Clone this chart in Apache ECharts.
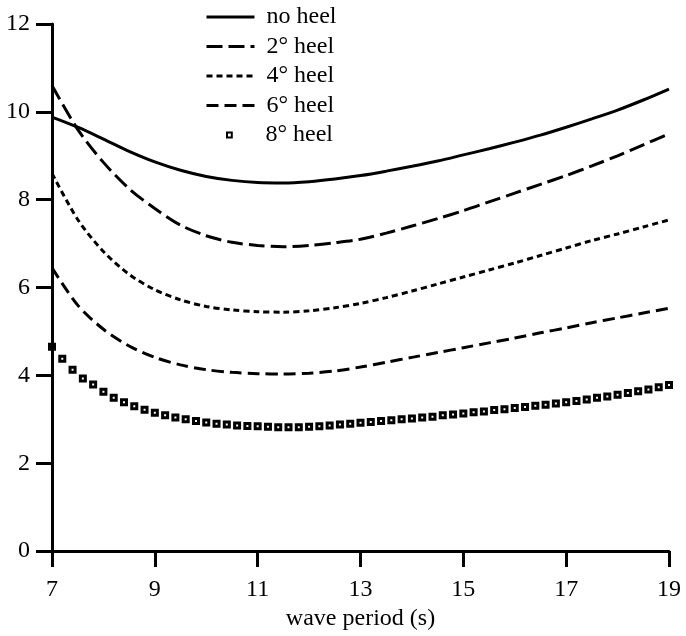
<!DOCTYPE html>
<html>
<head>
<meta charset="utf-8">
<script src="https://cdn.jsdelivr.net/npm/echarts@6/dist/echarts.min.js"></script>
<style>
  html, body { margin: 0; padding: 0; background: #fff; }
  #chart { width: 686px; height: 636px; }
</style>
</head>
<body>
<div id="chart"></div>
<script>
// wave period (s) for the line curves, every 0.5 s
var periods = [7, 7.5, 8, 8.5, 9, 9.5, 10, 10.5, 11, 11.5, 12, 12.5, 13, 13.5, 14, 14.5,
  15, 15.5, 16, 16.5, 17, 17.5, 18, 18.5, 19];
var noHeel = [9.88, 9.65, 9.38, 9.1, 8.86, 8.67, 8.53, 8.44, 8.39, 8.38, 8.41, 8.47, 8.55, 8.65,
  8.76, 8.88, 9.02, 9.16, 9.31, 9.47, 9.65, 9.84, 10.04, 10.27, 10.52];
var heel2 = [10.6, 9.6, 8.85, 8.25, 7.8, 7.42, 7.18, 7.03, 6.96, 6.93, 6.96, 7.02, 7.1, 7.24,
  7.4, 7.57, 7.75, 7.95, 8.15, 8.35, 8.55, 8.77, 9.0, 9.25, 9.5];
var heel4 = [8.6, 7.55, 6.82, 6.3, 5.95, 5.72, 5.57, 5.49, 5.45, 5.44, 5.47, 5.54, 5.64, 5.77,
  5.92, 6.08, 6.24, 6.4, 6.56, 6.73, 6.9, 7.07, 7.22, 7.38, 7.54];
var heel6 = [6.45, 5.6, 5.05, 4.67, 4.41, 4.24, 4.13, 4.07, 4.04, 4.03, 4.05, 4.1, 4.19, 4.3,
  4.41, 4.52, 4.63, 4.74, 4.85, 4.97, 5.08, 5.2, 5.31, 5.42, 5.53];

// 8 deg heel is drawn as markers, every 0.2 s from 7 to 19
var periods8 = [7.0, 7.2, 7.4, 7.6, 7.8, 8.0, 8.2, 8.4, 8.6, 8.8, 9.0, 9.2, 9.4, 9.6, 9.8,
  10.0, 10.2, 10.4, 10.6, 10.8, 11.0, 11.2, 11.4, 11.6, 11.8, 12.0, 12.2, 12.4, 12.6, 12.8,
  13.0, 13.2, 13.4, 13.6, 13.8, 14.0, 14.2, 14.4, 14.6, 14.8, 15.0, 15.2, 15.4, 15.6, 15.8,
  16.0, 16.2, 16.4, 16.6, 16.8, 17.0, 17.2, 17.4, 17.6, 17.8, 18.0, 18.2, 18.4, 18.6, 18.8, 19.0];
var heel8 = [4.65, 4.38, 4.13, 3.93, 3.79, 3.63, 3.49, 3.39, 3.30, 3.22, 3.15, 3.09, 3.04, 3.00, 2.96,
  2.93, 2.90, 2.88, 2.86, 2.85, 2.84, 2.83, 2.82, 2.82, 2.82, 2.83, 2.84, 2.86, 2.88, 2.90,
  2.92, 2.94, 2.96, 2.98, 3.00, 3.02, 3.04, 3.06, 3.09, 3.11, 3.13, 3.16, 3.18, 3.21, 3.23,
  3.26, 3.28, 3.31, 3.33, 3.36, 3.39, 3.42, 3.45, 3.49, 3.52, 3.56, 3.60, 3.64, 3.68, 3.73, 3.78];

var names = ["no heel", "2° heel", "4° heel", "6° heel", "8° heel"];

function pairs(xs, ys) {
  var out = [];
  for (var i = 0; i < xs.length; i++) {
    out.push([xs[i], ys[i]]);
  }
  return out;
}

var font = "Liberation Serif";
var txt = { fontFamily: font, fontSize: 24, color: "#000" };

var chart = echarts.init(document.getElementById("chart"));
chart.setOption({
  animation: false,
  backgroundColor: "#fff",
  grid: { left: 52, right: 17, top: 24, bottom: 80 },
  legend: [
    {
      // line-only icons: hide the symbol echarts puts on line legends
      data: names.slice(0, 4),
      orient: "vertical",
      left: 205,
      top: 5,
      padding: 0,
      itemWidth: 48,
      itemHeight: 14,
      itemGap: 5.5,
      itemStyle: { color: "rgba(0,0,0,0)", borderColor: "rgba(0,0,0,0)", borderWidth: 0 },
      lineStyle: { width: 3 },
      textStyle: Object.assign({ lineHeight: 24, padding: [0, 0, 0, 7] }, txt),
      selectedMode: false
    },
    {
      data: [names[4]],
      orient: "vertical",
      left: 226,
      top: 123,
      padding: 0,
      itemWidth: 6,
      itemHeight: 6,
      textStyle: Object.assign({ lineHeight: 24, padding: [0, 0, 0, 28] }, txt),
      selectedMode: false
    }
  ],
  xAxis: {
    type: "value",
    min: 7,
    max: 19,
    interval: 2,
    name: "wave period (s)",
    nameLocation: "middle",
    nameGap: 42,
    nameTextStyle: txt,
    axisLine: { lineStyle: { color: "#000", width: 3 } },
    axisTick: { length: 16, lineStyle: { color: "#000", width: 3 } },
    axisLabel: Object.assign({ margin: 27 }, txt),
    splitLine: { show: false }
  },
  yAxis: {
    type: "value",
    min: 0,
    max: 12,
    interval: 2,
    z: 5,
    axisLine: { show: true, lineStyle: { color: "#000", width: 3 } },
    axisTick: { show: true, length: 16, lineStyle: { color: "#000", width: 3 } },
    axisLabel: Object.assign({ margin: 22 }, txt),
    splitLine: { show: false }
  },
  series: [
    {
      name: names[0], type: "line", smooth: 0.3, symbol: "none",
      lineStyle: { color: "#000", width: 3, type: "solid" },
      itemStyle: { color: "#000" },
      data: pairs(periods, noHeel)
    },
    {
      name: names[1], type: "line", smooth: 0.3, symbol: "none",
      lineStyle: { color: "#000", width: 3, type: [16, 6] },
      itemStyle: { color: "#000" },
      data: pairs(periods, heel2)
    },
    {
      name: names[2], type: "line", smooth: 0.3, symbol: "none",
      lineStyle: { color: "#000", width: 3, type: [6, 4] },
      itemStyle: { color: "#000" },
      data: pairs(periods, heel4)
    },
    {
      name: names[3], type: "line", smooth: 0.3, symbol: "none",
      lineStyle: { color: "#000", width: 3, type: [12, 6] },
      itemStyle: { color: "#000" },
      data: pairs(periods, heel6)
    },
    {
      name: names[4], type: "line", symbol: "rect", symbolSize: 5,
      showSymbol: true, showAllSymbol: true,
      lineStyle: { opacity: 0, width: 0 },
      itemStyle: { color: "#fff", borderColor: "#000", borderWidth: 3 },
      data: pairs(periods8, heel8)
    }
  ]
});
</script>
</body>
</html>
